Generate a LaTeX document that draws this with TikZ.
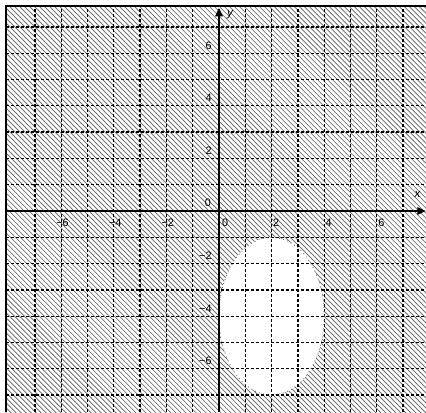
\documentclass[tikz,border=0pt]{standalone}
\usepackage{fontspec}
\setmainfont{Liberation Sans}
\usetikzlibrary{arrows.meta}
\tikzset{
  hatch/.style={draw=black!55, line width=0.5pt},
  gridline/.style={draw=black, line width=0.8pt, dash pattern=on 1.8pt off 1.2pt},
  axisline/.style={draw=black, line width=0.9pt, -{Triangle[length=5pt,width=4.5pt]}},
  frameline/.style={draw=black, line width=1.2pt},
  rim/.style={draw=black!60, line width=0.5pt, dotted},
  ticklab/.style={font=\fontsize{6.5}{7}\selectfont, inner sep=0pt},
  axislab/.style={font=\fontsize{7}{8}\selectfont\itshape, inner sep=0pt}
}
\begin{document}
\begin{tikzpicture}[x=15.78pt,y=15.78pt]
\useasboundingbox (-8.327,-7.643) rectangle (7.871,8.023);
\coordinate (BL) at (-8.1,-7.643);
\coordinate (TL) at (-8.1,7.795);
\coordinate (TR) at (7.871,7.795);
\coordinate (C) at (2,-4);
\begin{scope}
  \clip (BL) rectangle (TR);
  \foreach \i in {-90,...,90}
    \draw[hatch] ({\i*0.19-9},9) -- ({\i*0.19+9},-9);
  \fill[white] (C) ellipse [x radius=2, y radius=3];
  \foreach \k in {-7,...,7} {
    \draw[gridline] (\k,-7.643) -- (\k,7.795);
    \draw[gridline] (-8.1,\k) -- (7.871,\k);
  }
\end{scope}
\draw[rim] (C) ellipse [x radius=2, y radius=3];
\coordinate (xs) at (-8.1,0);
\coordinate (xe) at (7.86,0);
\coordinate (ys) at (0,-7.643);
\coordinate (ye) at (0,7.72);
\draw[axisline] (xs) -- (xe);
\draw[axisline] (ys) -- (ye);
\draw[frameline] (BL) -- (TL) -- (TR);
\node[axislab] (xl) at (7.55,0.62) {x};
\node[axislab] (yl) at (0.42,7.45) {y};
\foreach \k/\t in {-6/−6,-4/−4,-2/−2,2/2,4/4,6/6}
  \node[ticklab, anchor=east] (xt\k) at (\k+0.3,-0.43) {\t};
\foreach \k/\t in {-6/−6,-4/−4,-2/−2,2/2,4/4,6/6}
  \node[ticklab, anchor=east] (yt\k) at (-0.27,\k+0.3) {\t};
\node[ticklab] (x0) at (0.23,-0.45) {0};
\node[ticklab] (y0) at (-0.42,0.3) {0};
\end{tikzpicture}
\end{document}
